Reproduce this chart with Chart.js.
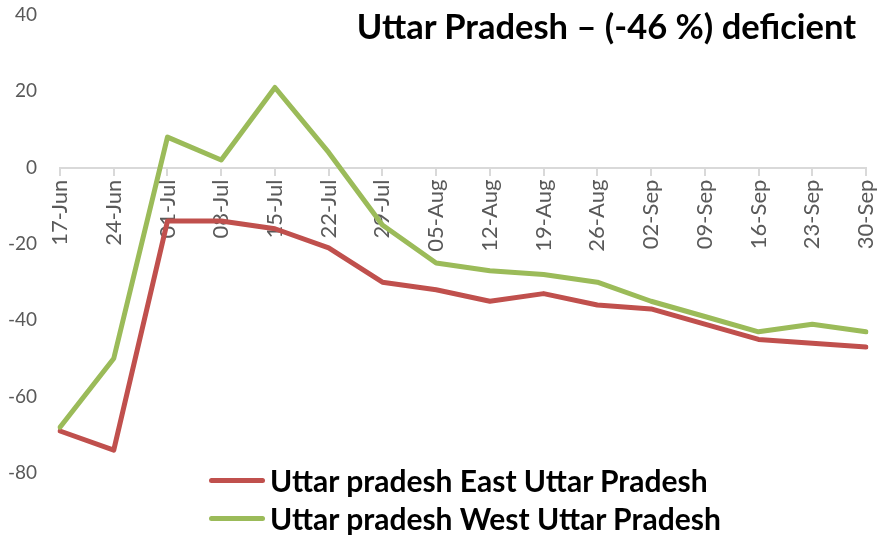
<!DOCTYPE html>
<html>
<head>
<meta charset="utf-8">
<script src="https://cdn.jsdelivr.net/npm/chart.js@4"></script>
<style>
  html, body { margin: 0; padding: 0; background: #ffffff; }
  #wrap { position: relative; width: 881px; height: 536px; font-family: Lato, "Open Sans", sans-serif; }
  #chart { position: absolute; left: 0; top: 0; }
  #title { position: absolute; right: 25px; top: 5px; font-size: 34.5px; font-weight: bold; color: #000; white-space: nowrap; }
  #legend { position: absolute; left: 209px; top: 461px; }
  .item { display: flex; align-items: center; height: 38px; font-size: 30px; font-weight: bold; color: #000; white-space: nowrap; }
  .swatch { width: 56px; height: 5px; border-radius: 3px; margin-right: 5px; }
</style>
</head>
<body>
<div id="wrap">
  <canvas id="chart" width="881" height="536"></canvas>
  <div id="title">Uttar Pradesh – (-46 %) deficient</div>
  <div id="legend"></div>
</div>
<script>
const weeks = ["17-Jun", "24-Jun", "01-Jul", "08-Jul", "15-Jul", "22-Jul", "29-Jul", "05-Aug",
  "12-Aug", "19-Aug", "26-Aug", "02-Sep", "09-Sep", "16-Sep", "23-Sep", "30-Sep"];
const eastUP = [-69, -74, -14, -14, -16, -21, -30, -32, -35, -33, -36, -37, -41, -45, -46, -47];
const westUP = [-68, -50, 8, 2, 21, 4, -15, -25, -27, -28, -30, -35, -39, -43, -41, -43];
const seriesNames = ["Uttar pradesh East Uttar Pradesh", "Uttar pradesh West Uttar Pradesh"];
const seriesColors = ["#C0504D", "#9BBB59"];
const yTicks = [40, 20, 0, -20, -40, -60, -80];

// legende en HTML (elle chevauche la zone du graphique dans l'original)
const legend = document.getElementById("legend");
seriesNames.forEach((name, i) => {
    const row = document.createElement("div");
    row.className = "item";
    const sw = document.createElement("span");
    sw.className = "swatch";
    sw.style.background = seriesColors[i];
    const label = document.createElement("span");
    label.textContent = name;
    row.appendChild(sw);
    row.appendChild(label);
    legend.appendChild(row);
});

// pas de marge automatique autour des axes
function noPadding(scale) {
    scale.paddingLeft = 0;
    scale.paddingRight = 0;
    scale.paddingTop = 0;
    scale.paddingBottom = 0;
}

const ctx = document.getElementById("chart").getContext("2d");
new Chart(ctx, {
    type: "line",
    data: {
        labels: weeks,
        datasets: [
            {
                label: seriesNames[0],
                data: eastUP,
                borderColor: seriesColors[0],
                backgroundColor: seriesColors[0],
                borderWidth: 5,
                pointRadius: 0,
                borderCapStyle: "round",
                borderJoinStyle: "round",
                tension: 0,
                order: 2,
            },
            {
                label: seriesNames[1],
                data: westUP,
                borderColor: seriesColors[1],
                backgroundColor: seriesColors[1],
                borderWidth: 5,
                pointRadius: 0,
                borderCapStyle: "round",
                borderJoinStyle: "round",
                tension: 0,
                order: 1,
            },
        ],
    },
    options: {
        responsive: false,
        animation: false,
        layout: {
            padding: { left: 0, top: 15, right: 15, bottom: 63 },
        },
        plugins: {
            legend: { display: false },
            tooltip: { enabled: false },
        },
        scales: {
            x: {
                position: { y: 0 },
                offset: false,
                afterFit: noPadding,
                grid: {
                    display: true,
                    drawOnChartArea: false,
                    drawTicks: true,
                    tickLength: 7,
                    color: "#D9D9D9",
                    lineWidth: 2,
                },
                border: { display: true, color: "#D9D9D9", width: 2 },
                ticks: {
                    autoSkip: false,
                    minRotation: 90,
                    maxRotation: 90,
                    padding: 5,
                    color: "#595959",
                    font: { family: "Lato", size: 22 },
                },
            },
            y: {
                min: -80,
                max: 40,
                grid: { display: false, drawTicks: false },
                border: { display: false },
                afterFit: (scale) => { noPadding(scale); scale.width = 60; },
                afterBuildTicks: (scale) => { scale.ticks = yTicks.map((v) => ({ value: v })); },
                ticks: {
                    padding: 23,
                    color: "#595959",
                    font: { family: "Lato", size: 19 },
                },
            },
        },
    },
});
</script>
</body>
</html>
